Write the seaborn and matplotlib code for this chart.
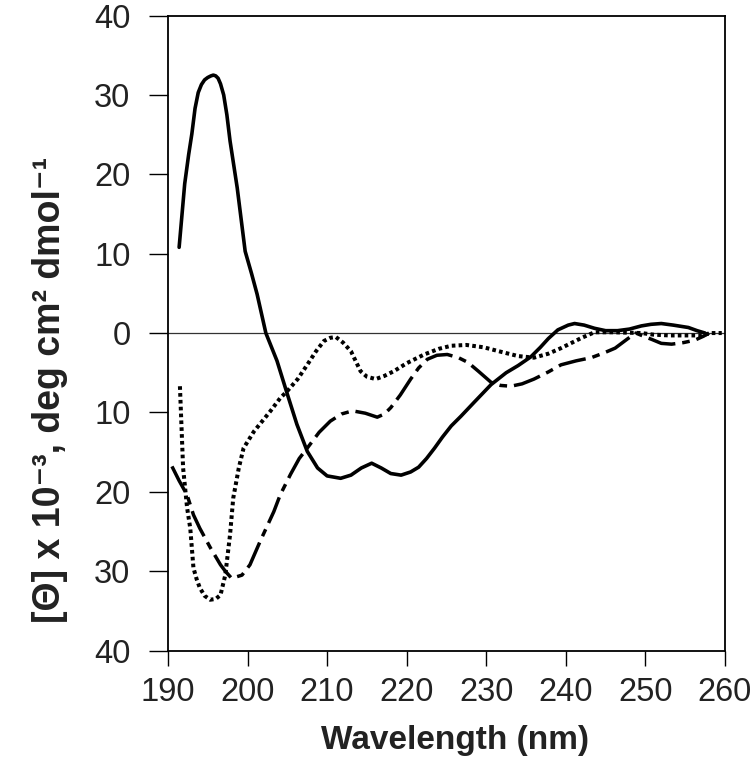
import numpy as np
import pandas as pd
import matplotlib
matplotlib.use("Agg")
import matplotlib.pyplot as plt
import seaborn as sns

# CD spectra, values (units of 10^3 deg cm2 dmol-1)
solid_x = [191.4, 192.1, 192.6, 193.0, 193.4, 193.8, 194.2, 194.6, 195.0, 195.4,
           195.7, 196.0, 196.3, 196.6, 197.0, 197.4, 197.8, 198.7, 199.7, 200.5,
           201.2, 202.3, 203.7, 205.0, 206.2, 207.5, 208.8, 210.0, 211.7, 213.0,
           214.3, 215.6, 216.8, 218.0, 219.3, 220.5, 221.5, 222.5, 223.5, 224.5,
           225.6, 226.8, 228.5, 230.6, 232.5, 234.0, 235.6, 236.8, 237.8, 239.0,
           240.3, 241.1, 242.3, 243.6, 245.0, 246.5, 248.0, 249.5, 250.7, 252.0,
           253.5, 255.4, 256.5, 257.5]
solid_y = [10.8, 18.8, 22.5, 25.1, 28.3, 30.3, 31.3, 31.9, 32.2, 32.4,
           32.5, 32.4, 32.1, 31.4, 30.0, 27.5, 24.2, 18.3, 10.3, 7.5,
           4.9, 0.0, -3.5, -7.7, -11.5, -14.9, -17.0, -18.0, -18.3, -17.9,
           -17.0, -16.4, -17.0, -17.7, -17.9, -17.5, -16.9, -15.8, -14.5, -13.1,
           -11.7, -10.5, -8.7, -6.5, -5.0, -4.1, -3.0, -1.8, -0.7, 0.4,
           1.0, 1.2, 1.0, 0.6, 0.3, 0.3, 0.5, 0.9, 1.1, 1.2,
           1.0, 0.7, 0.3, 0.0]

dotted_x = [191.5, 191.9, 192.4, 192.8, 193.2, 193.6, 194.0, 194.6, 195.3, 196.0,
            196.6, 197.2, 197.8, 198.2, 198.9, 199.5, 200.8, 202.9, 204.1, 205.0,
            206.3, 207.5, 208.6, 209.6, 210.4, 211.1, 212.0, 213.0, 214.2, 215.0,
            216.1, 217.2, 218.4, 220.0, 222.2, 224.0, 225.6, 227.5, 229.7, 232.0,
            234.0, 236.0, 237.8, 239.4, 240.8, 242.0, 243.6, 246.0, 249.5, 251.0,
            253.0, 255.0, 257.0, 258.3, 259.6]
dotted_y = [-6.7, -17.0, -22.0, -24.6, -29.6, -31.0, -32.1, -33.1, -33.6, -33.5,
            -33.0, -30.5, -25.4, -20.8, -17.0, -14.5, -12.4, -9.8, -8.2, -7.3,
            -5.8, -4.0, -2.3, -1.0, -0.6, -0.5, -1.2, -2.3, -4.8, -5.5,
            -5.8, -5.4, -4.8, -3.8, -2.7, -2.0, -1.6, -1.5, -1.8, -2.4,
            -2.9, -3.1, -2.6, -1.9, -1.2, -0.6, 0.1, 0.1, 0.0, -0.2,
            -0.3, -0.3, -0.3, 0.0, 0.0]

dashdot_x = [190.5, 191.4, 192.4, 193.2, 194.0, 195.3, 196.6, 197.2, 198.0, 199.3,
             200.3, 201.6, 203.3, 204.1, 205.4, 206.5, 207.5, 209.0, 210.4, 211.8,
             213.2, 214.8, 216.3, 217.2, 218.0, 219.2, 220.5, 221.5, 222.6, 223.8,
             225.1, 226.5, 227.7, 229.0, 230.6, 231.8, 233.1, 234.5, 236.0, 237.8,
             239.4, 241.3, 243.2, 244.8, 246.2, 247.8, 248.8, 250.0, 250.8, 252.0,
             253.3, 254.8, 256.2, 257.3, 258.0]
dashdot_y = [-16.8, -18.6, -20.4, -22.9, -24.6, -27.0, -29.2, -30.0, -30.9, -30.5,
             -29.2, -26.2, -22.5, -20.4, -17.8, -15.8, -14.5, -12.5, -11.1, -10.2,
             -9.8, -10.1, -10.6, -10.2, -9.4, -7.8, -5.8, -4.4, -3.3, -2.8,
             -2.7, -3.1, -3.7, -4.8, -6.2, -6.6, -6.7, -6.4, -5.8, -4.9,
             -4.0, -3.5, -3.1, -2.5, -1.9, -0.7, 0.0, -0.5, -0.8, -1.3,
             -1.4, -1.2, -0.9, -0.4, 0.0]

x_ticks = [190, 200, 210, 220, 230, 240, 250, 260]
y_ticks = [-40, -30, -20, -10, 0, 10, 20, 30, 40]
y_tick_labels = ["40", "30", "20", "10", "0", "10", "20", "30", "40"]

sns.set_theme(style="ticks")
plt.rcParams["font.family"] = ["Liberation Sans", "DejaVu Sans"]

fig = plt.figure(figsize=(7.55, 7.63), dpi=100)
ax = fig.add_axes([0.2225, 0.1474, 0.7377, 0.8322])

# zero line
ax.axhline(0, color="#333333", lw=0.9, zorder=1)

sns.lineplot(x=solid_x, y=solid_y, ax=ax, color="black", lw=2.6,
             sort=False, solid_capstyle="round", solid_joinstyle="round")
sns.lineplot(x=dotted_x, y=dotted_y, ax=ax, color="black", lw=2.9,
             sort=False, linestyle=(0, (0.9, 0.8)))
sns.lineplot(x=dashdot_x, y=dashdot_y, ax=ax, color="black", lw=2.5,
             sort=False, linestyle=(0, (8, 2.0, 2.2, 2.0)))

ax.set_xlim(190, 260)
ax.set_ylim(-40, 40)
ax.set_xticks(x_ticks)
ax.set_yticks(y_ticks)
ax.set_yticklabels(y_tick_labels)

for s in ax.spines.values():
    s.set_linewidth(1.3)
    s.set_color("black")
    s.set_visible(True)

ax.tick_params(axis="both", direction="out", width=1.0,
               colors="black", labelcolor="#222222", labelsize=23.5)
ax.tick_params(axis="y", length=14, pad=13)
ax.tick_params(axis="x", length=11, pad=8)

ax.set_xlabel("Wavelength (nm)", fontsize=24, fontweight="bold", color="#222222")
ax.set_ylabel("[Θ] x 10⁻³, deg cm² dmol⁻¹", fontsize=27, fontweight="bold",
              color="#222222")
ax.xaxis.set_label_coords(0.515, -0.118)
ax.yaxis.set_label_coords(-0.18, 0.41)

fig.savefig("out.png", dpi=100)
plt.close(fig)
